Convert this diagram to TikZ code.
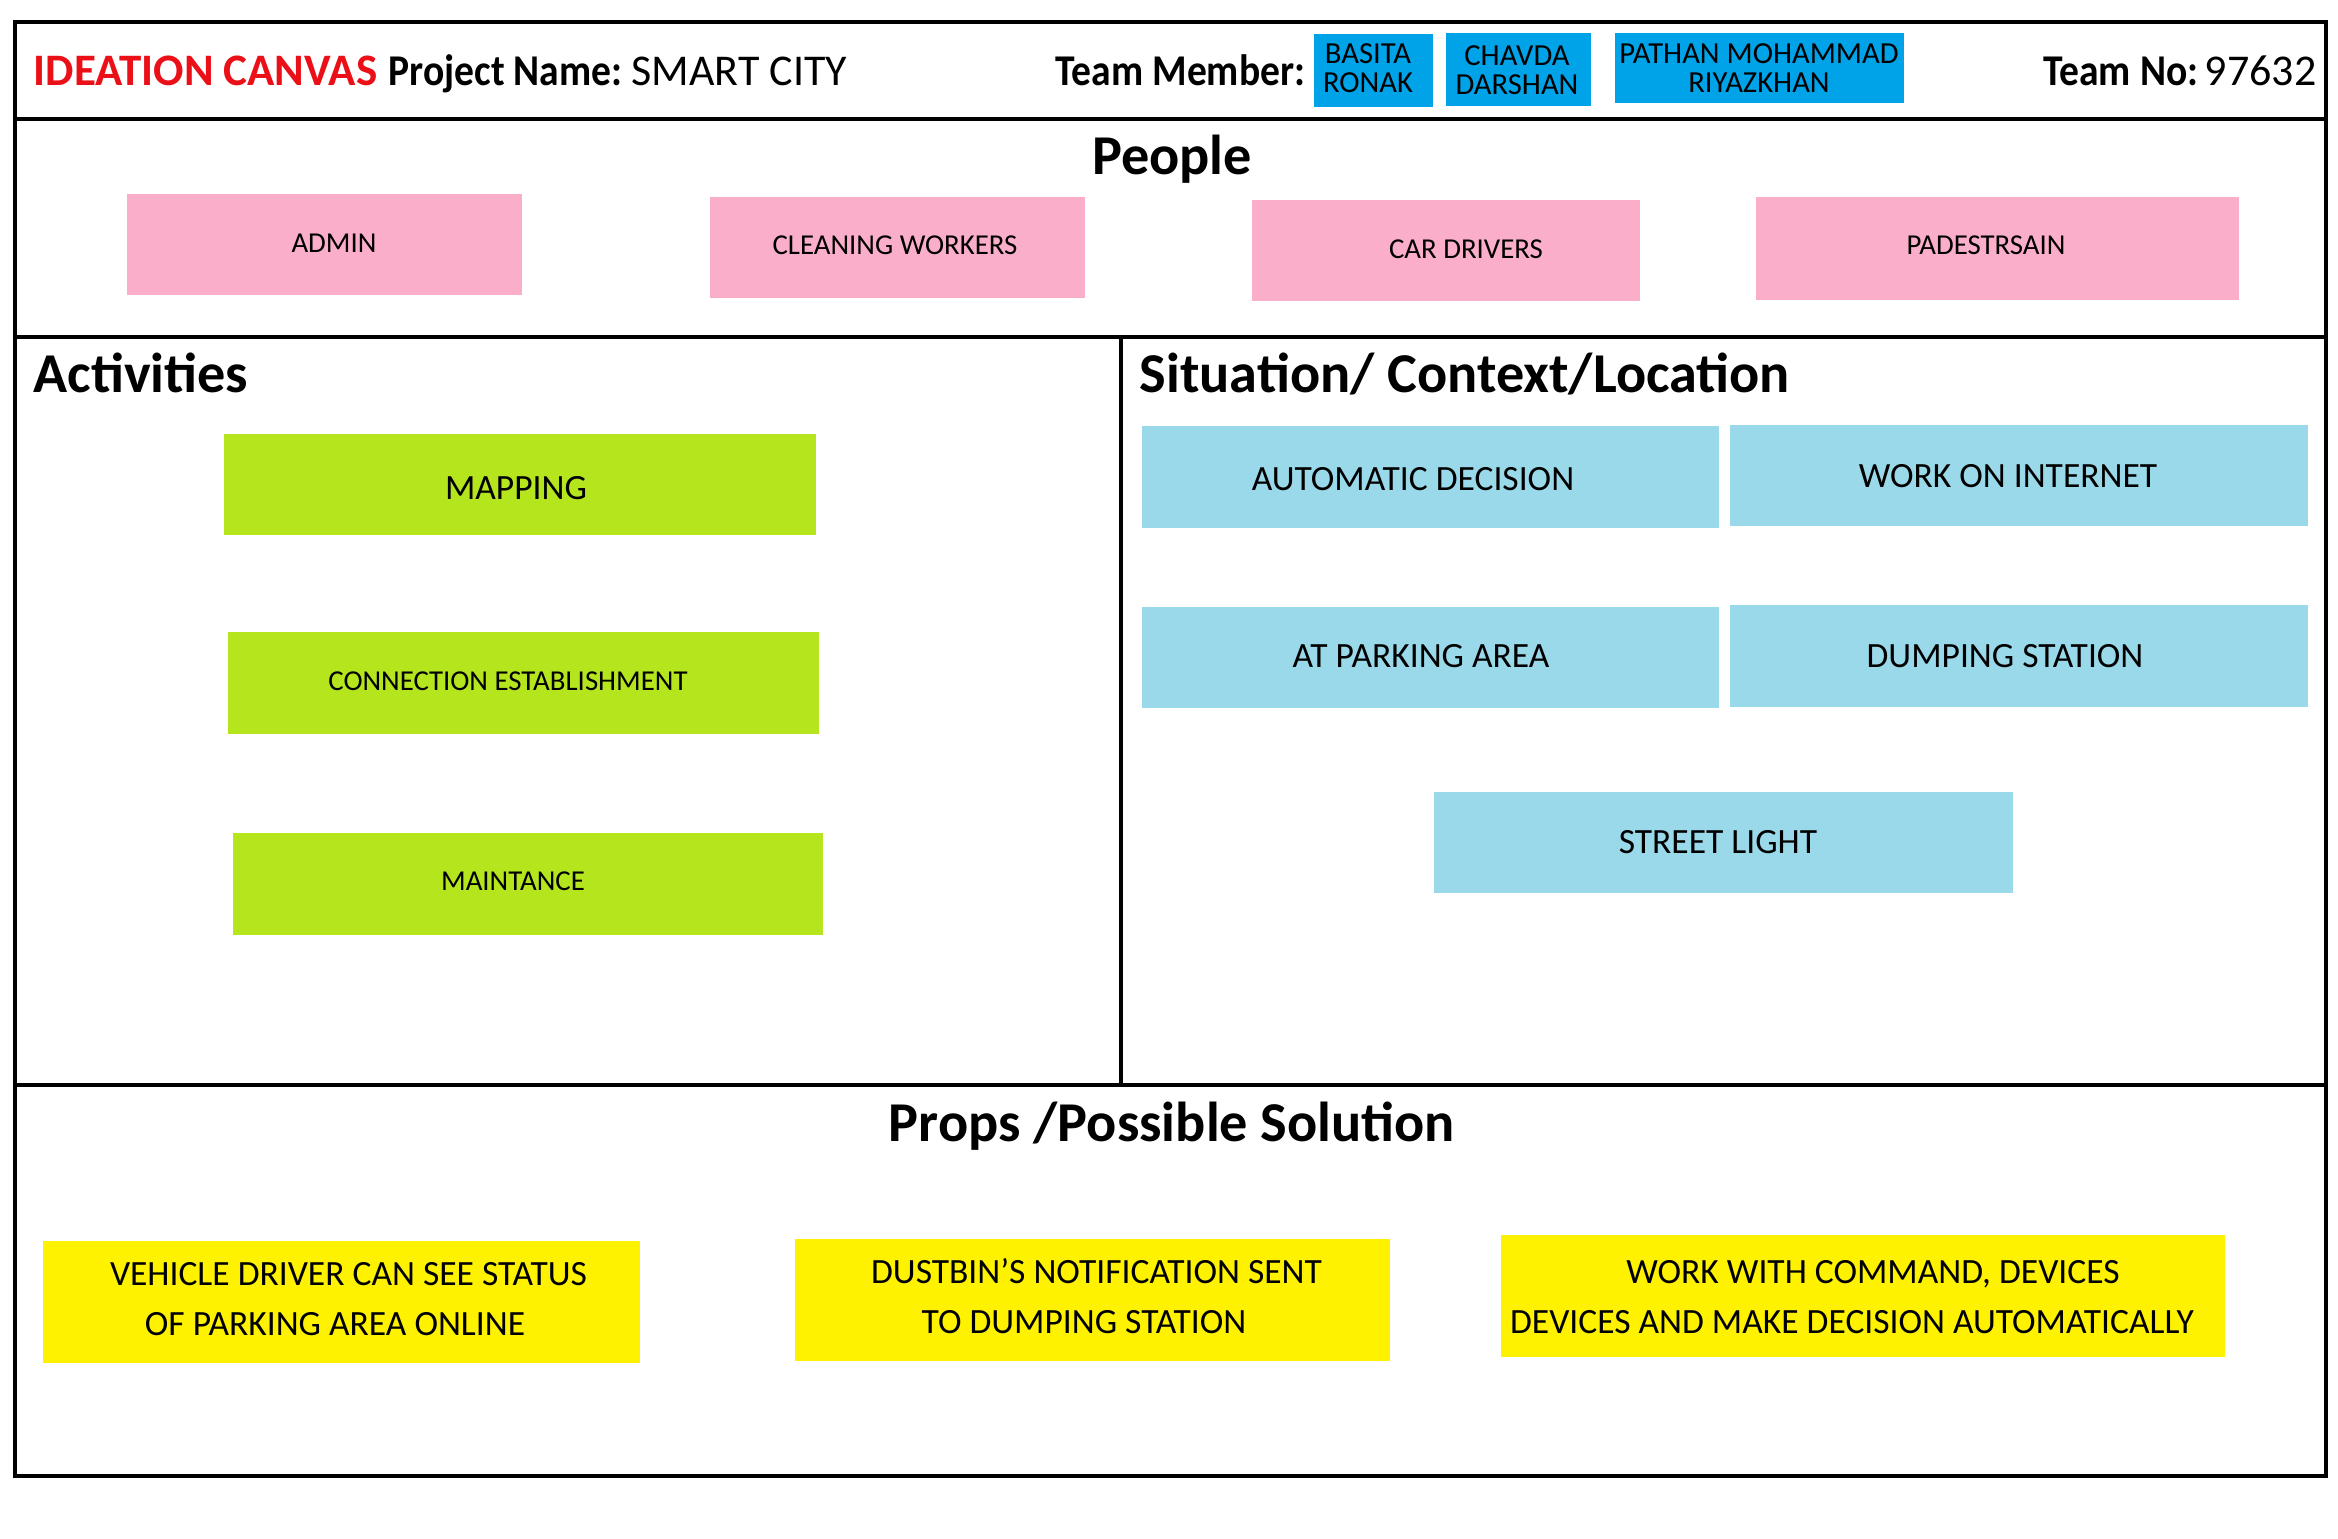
\documentclass[tikz,border=0pt]{standalone}
\usepackage{fontspec}
\setmainfont{Carlito}
\newfontfamily\hdrcond[FakeStretch=0.9]{Carlito}
\usetikzlibrary{fit}
\definecolor{pinkc}{RGB}{250,174,201}
\definecolor{greenc}{RGB}{181,230,29}
\definecolor{lblue}{RGB}{153,217,234}
\definecolor{yellowc}{RGB}{255,242,0}
\definecolor{teamblue}{RGB}{0,162,232}
\definecolor{titlered}{RGB}{235,16,24}
\tikzset{
  frame/.style={line width=1.3pt, draw=black},
  card/.style={inner sep=0pt, draw=none},
  heading/.style={font=\fontsize{16}{19}\selectfont\bfseries, inner sep=0pt},
  small/.style={font=\fontsize{8.2}{10}\selectfont, inner sep=0pt},
  medium/.style={font=\fontsize{10.1}{12}\selectfont, inner sep=0pt},
  twoline/.style={font=\fontsize{10.1}{14.4}\selectfont, inner sep=0pt, align=center},
  hdr/.style={font=\fontsize{12.5}{15}\selectfont, inner sep=0pt, anchor=base west},
  hdrbold/.style={hdr, font=\fontsize{12.5}{15}\selectfont\hdrcond\bfseries},
  member/.style={font=\fontsize{8.7}{8.3}\selectfont, inner sep=0pt, align=center},
}
\begin{document}
\begin{tikzpicture}[x=0.01cm,y=-0.01cm]
\useasboundingbox (0,0) rectangle (2338,1538);
\fill[white] (0,0) rectangle (2338,1538);
% frame
\draw[frame] (15,22) rectangle (2326,1476);
\draw[frame] (15,119) -- (2326,119);
\draw[frame] (15,337) -- (2326,337);
\draw[frame] (15,1085) -- (2326,1085);
\draw[line width=1pt] (1121,337) -- (1121,1085);
% header
\node[hdr, text=titlered, font=\fontsize{12.8}{15}\selectfont\bfseries] (title) at (33,85) {IDEATION CANVAS};
\node[hdrbold] (pname) at (388,85) {Project Name:};
\node[hdr] (pval) at (631,85) {SMART CITY};
\node[hdrbold, anchor=base east] (tm) at (1306,85) {Team Member:};
\node[card, fill=teamblue, fit={(1314,34) (1433,107)}] (m1) {};
\node[card, fill=teamblue, fit={(1446,33) (1591,106)}] (m2) {};
\node[card, fill=teamblue, fit={(1615,33) (1904,103)}] (m3) {};
\node[member] (m1t) at (1368,68) {BASITA\\RONAK};
\node[member] (m2t) at (1517,70) {CHAVDA\\DARSHAN};
\node[member] (m3t) at (1759,68) {PATHAN MOHAMMAD\\RIYAZKHAN};
\node[hdrbold, anchor=base east] (tno) at (2199,85) {Team No:};
\node[hdr, anchor=base east] (tnov) at (2317,85) {97632};
% People
\node[heading, anchor=base] (people) at (1172,174) {People};
\node[card, fill=pinkc, fit={(127,194) (522,295)}] (p1) {};
\node[card, fill=pinkc, fit={(710,197) (1085,298)}] (p2) {};
\node[card, fill=pinkc, fit={(1252,200) (1640,301)}] (p3) {};
\node[card, fill=pinkc, fit={(1756,197) (2239,300)}] (p4) {};
\node[small] (p1t) at (334,243) {ADMIN};
\node[small] (p2t) at (895,245) {CLEANING WORKERS};
\node[small] (p3t) at (1466,249) {CAR DRIVERS};
\node[small] (p4t) at (1986,245) {PADESTRSAIN};
% Activities
\node[heading, anchor=base west] (act) at (33,392) {Activities};
\node[card, fill=greenc, fit={(224,434) (816,535)}] (a1) {};
\node[card, fill=greenc, fit={(228,632) (819,734)}] (a2) {};
\node[card, fill=greenc, fit={(233,833) (823,935)}] (a3) {};
\node[medium] (a1t) at (516,488) {MAPPING};
\node[small] (a2t) at (508,681) {CONNECTION ESTABLISHMENT};
\node[small] (a3t) at (513,881) {MAINTANCE};
% Situation
\node[heading, anchor=base west] (sit) at (1139,392) {Situation/ Context/Location};
\node[card, fill=lblue, fit={(1142,426) (1719,528)}] (s1) {};
\node[card, fill=lblue, fit={(1730,425) (2308,526)}] (s2) {};
\node[card, fill=lblue, fit={(1142,607) (1719,708)}] (s3) {};
\node[card, fill=lblue, fit={(1730,605) (2308,707)}] (s4) {};
\node[card, fill=lblue, fit={(1434,792) (2013,893)}] (s5) {};
\node[medium] (s1t) at (1413,479) {AUTOMATIC DECISION};
\node[medium] (s2t) at (2008,476) {WORK ON INTERNET};
\node[medium] (s3t) at (1421,656) {AT PARKING AREA};
\node[medium] (s4t) at (2005,656) {DUMPING STATION};
\node[medium] (s5t) at (1718,842) {STREET LIGHT};
% Props
\node[heading, anchor=base] (props) at (1172,1141) {Props /Possible Solution};
\node[card, fill=yellowc, fit={(43,1241) (640,1363)}] (y1) {};
\node[card, fill=yellowc, fit={(795,1239) (1390,1361)}] (y2) {};
\node[card, fill=yellowc, fit={(1501,1235) (2225,1357)}] (y3) {};
\node[twoline] (y1t) at (335,1299) {\hspace*{0.27cm}VEHICLE DRIVER CAN SEE STATUS\\OF PARKING AREA ONLINE};
\node[twoline] (y2t) at (1084,1296) {\hspace*{0.25cm}DUSTBIN’S NOTIFICATION SENT\\TO DUMPING STATION};
\node[twoline] (y3t) at (1852,1297) {\hspace*{0.42cm}WORK WITH COMMAND, DEVICES\\DEVICES AND MAKE DECISION AUTOMATICALLY};
\end{tikzpicture}
\end{document}
